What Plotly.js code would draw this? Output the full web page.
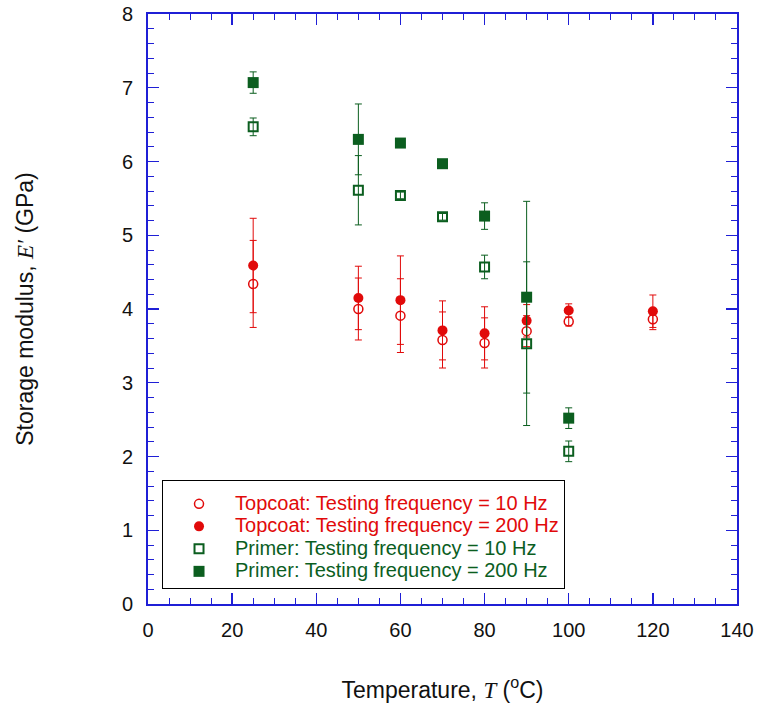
<!DOCTYPE html>
<html>
<head>
<meta charset="utf-8">
<script src="https://cdn.plot.ly/plotly-3.0.1.min.js"></script>
<style>html,body{margin:0;padding:0;background:#fff;}#chart{width:761px;height:710px;}</style>
</head>
<body>
<div id="chart"></div>
<script>
// Temperatures (°C)
const topcoatT = [25, 50, 60, 70, 80, 90, 100, 120];
const primerT = [25, 50, 60, 70, 80, 90, 100];

// Topcoat storage modulus (GPa)
const topcoat10 = [4.34, 4.00, 3.91, 3.58, 3.54, 3.70, 3.83, 3.86];
const topcoat10Err = [0.59, 0.42, 0.50, 0.38, 0.34, 0.21, 0.06, 0.14];
const topcoat200 = [4.59, 4.15, 4.12, 3.71, 3.67, 3.84, 3.98, 3.97];
const topcoat200Err = [0.64, 0.43, 0.60, 0.40, 0.36, 0.22, 0.09, 0.22];

// Primer storage modulus (GPa)
const primer10 = [6.47, 5.61, 5.54, 5.25, 4.57, 3.53, 2.07];
const primer10Err = [0.12, 0.47, 0.045, 0.045, 0.16, 1.11, 0.14];
const primer200 = [7.07, 6.30, 6.25, 5.97, 5.26, 4.16, 2.52];
const primer200Err = [0.145, 0.48, 0.02, 0.02, 0.18, 1.30, 0.14];

const legendNames = [
  'Topcoat: Testing frequency = 10 Hz',
  'Topcoat: Testing frequency = 200 Hz',
  'Primer: Testing frequency = 10 Hz',
  'Primer: Testing frequency = 200 Hz'
];

const RED = '#e10a0a';
const GREEN = '#0b5e1f';
const BLUE = '#1f1fd6';

function errStyle(arr, color) {
  return {type: 'data', array: arr, visible: true, color: color, thickness: 1, width: 3.5};
}
function legName(txt, color) {
  return '<span style="color:' + color + ';font-size:20px">' + txt + '</span>';
}

const traces = [
  {x: topcoatT, y: topcoat10, error_y: errStyle(topcoat10Err, RED), mode: 'markers', type: 'scatter',
   name: legName(legendNames[0], RED),
   marker: {symbol: 'circle-open', size: 9, color: RED, line: {width: 1.5, color: RED}}},
  {x: topcoatT, y: topcoat200, error_y: errStyle(topcoat200Err, RED), mode: 'markers', type: 'scatter',
   name: legName(legendNames[1], RED),
   marker: {symbol: 'circle', size: 10, color: RED, line: {width: 0}}},
  {x: primerT, y: primer10, error_y: errStyle(primer10Err, GREEN), mode: 'markers', type: 'scatter',
   name: legName(legendNames[2], GREEN),
   marker: {symbol: 'square-open', size: 9, color: GREEN, line: {width: 2, color: GREEN}}},
  {x: primerT, y: primer200, error_y: errStyle(primer200Err, GREEN), mode: 'markers', type: 'scatter',
   name: legName(legendNames[3], GREEN),
   marker: {symbol: 'square', size: 11, color: GREEN, line: {width: 0}}}
];

const axisCommon = {
  showgrid: false, zeroline: false, showline: true, linecolor: BLUE, linewidth: 2,
  mirror: 'ticks', ticks: 'inside', ticklen: 11, tickwidth: 1.3, tickcolor: BLUE,
  tickfont: {family: 'Arial, Liberation Sans, sans-serif', size: 20, color: '#111'}
};

const layout = {
  width: 761, height: 710,
  margin: {l: 148, r: 24, t: 14, b: 106},
  paper_bgcolor: '#fff', plot_bgcolor: '#fff',
  showlegend: true,
  font: {family: 'Arial, Liberation Sans, sans-serif', color: '#111'},
  xaxis: Object.assign({}, axisCommon, {
    range: [0, 140], tick0: 0, dtick: 20, autorange: false,
    minor: {dtick: 5, ticklen: 6, tickcolor: BLUE, tickwidth: 1, ticks: 'inside'},
    ticklabelstandoff: 7,
    title: {text: 'Temperature, <span style="font-family:Liberation Serif;font-style:italic">T</span> (<sup>o</sup>C)',
            font: {size: 23, color: '#111'}, standoff: 42}
  }),
  yaxis: Object.assign({}, axisCommon, {
    range: [0, 8], tick0: 0, dtick: 1, autorange: false,
    minor: {dtick: 0.2, ticklen: 6, tickcolor: BLUE, tickwidth: 1, ticks: 'inside'},
    ticklabelstandoff: 9,
    title: {text: 'Storage modulus, <span style="font-family:Liberation Serif;font-style:italic">E′</span> (GPa)',
            font: {size: 23, color: '#111'}, standoff: 82}
  }),
  legend: {
    x: 0.0238, y: 0.21, xanchor: 'left', yanchor: 'top',
    bgcolor: '#fff', bordercolor: '#000', borderwidth: 1,
    font: {family: 'Arial, Liberation Sans, sans-serif', size: 15},
    title: {text: '&nbsp;', font: {size: 5}},
    itemwidth: 62, tracegroupgap: 0
  }
};

Plotly.newPlot('chart', traces, layout, {displayModeBar: false, staticPlot: true});
</script>
</body>
</html>
